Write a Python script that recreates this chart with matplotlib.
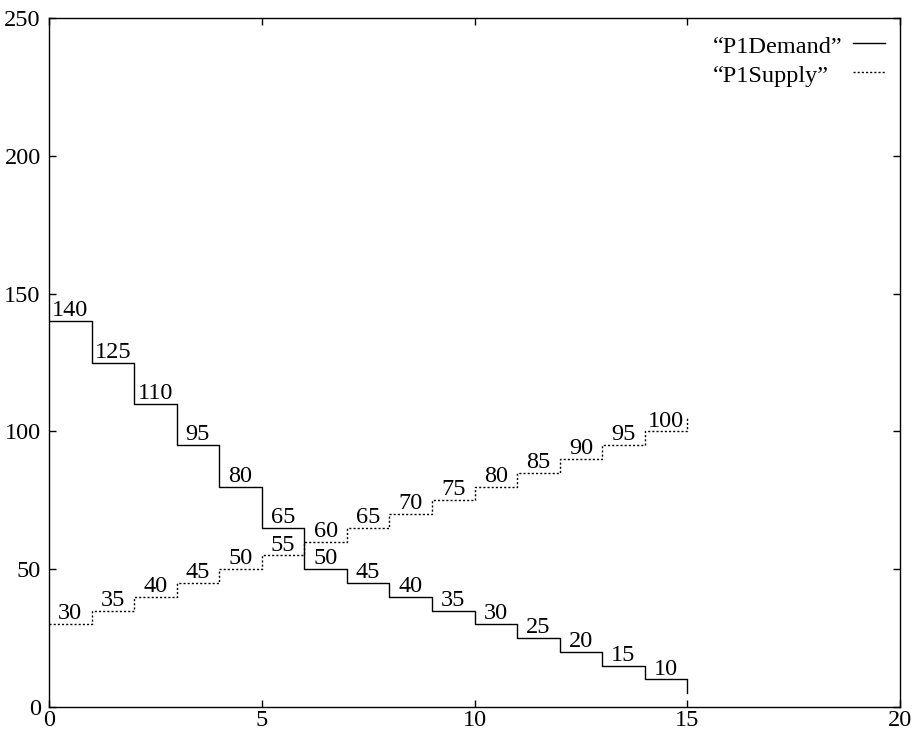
import matplotlib
matplotlib.use("Agg")
import matplotlib.pyplot as plt
from matplotlib.lines import Line2D

# Datos de las curvas escalonadas
x = list(range(0, 16))
demand = [140, 125, 110, 95, 80, 65, 50, 45, 40, 35, 30, 25, 20, 15, 10, 5]
supply = [30, 35, 40, 45, 50, 55, 60, 65, 70, 75, 80, 85, 90, 95, 100, 105]
names = ['\u201cP1Demand\u201d', '\u201cP1Supply\u201d']

xticks = [0, 5, 10, 15, 20]
yticks = [0, 50, 100, 150, 200, 250]

FS = 17.5
plt.rcParams['font.family'] = ['Liberation Serif', 'DejaVu Serif']
plt.rcParams['font.size'] = FS

fig = plt.figure(figsize=(9.19, 7.32), dpi=100)
ax = fig.add_axes([49 / 919, 1 - 707 / 732, 851 / 919, 689 / 732])

styles = ['-', (0, (1.5, 1.5))]
for yy, ls in zip([demand, supply], styles):
    ax.step(x, yy, where='post', color='black', lw=1.0, linestyle=ls)

# Etiquetas de valor sobre cada escalón
for xi, d, s in zip(x[:-1], demand[:-1], supply[:-1]):
    ax.annotate(str(d), (xi + 0.5, d), xytext=(0, 3.5), textcoords='offset points',
                ha='center', va='baseline', fontsize=FS)
    ax.annotate(str(s), (xi + 0.5, s), xytext=(0, 3.5), textcoords='offset points',
                ha='center', va='baseline', fontsize=FS)

# Leyenda al estilo gnuplot: texto a la izquierda, muestra de línea a la derecha
for i, (name, ls) in enumerate(zip(names, styles)):
    ly = 0.9637 - i * 0.0421
    ax.text(0.780, ly - 0.0145, name, transform=ax.transAxes, ha='left', va='baseline',
            fontsize=FS)
    ax.add_line(Line2D([0.945, 0.982], [ly, ly], transform=ax.transAxes, color='black',
                       lw=1.0, linestyle=ls))

ax.set_xlim(0, 20)
ax.set_ylim(0, 250)
ax.set_xticks(xticks)
ax.set_yticks(yticks)
ax.tick_params(direction='in', length=5, width=1, top=True, right=True, labelsize=FS)
ax.tick_params(axis='x', pad=2)
ax.tick_params(axis='y', pad=6)
for sp in ax.spines.values():
    sp.set_linewidth(1.0)

fig.savefig('out.png', dpi=100)
